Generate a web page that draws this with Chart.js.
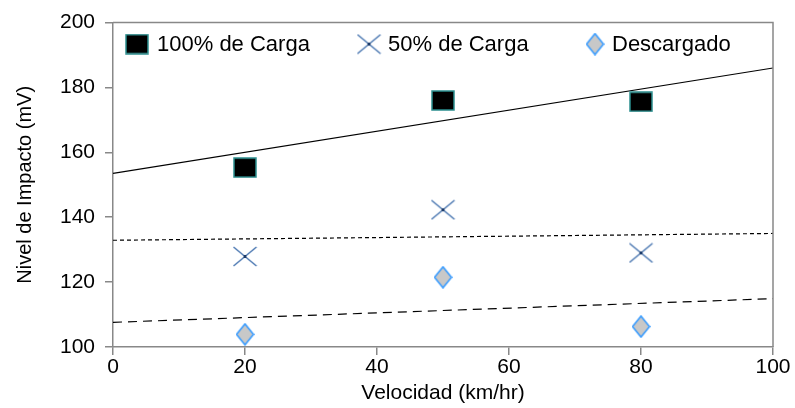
<!DOCTYPE html>
<html><head><meta charset="utf-8">
<script src="https://cdn.jsdelivr.net/npm/chart.js@4/dist/chart.umd.min.js"></script>
<style>html,body{margin:0;padding:0;background:#fff}</style>
</head><body>
<canvas id="c" width="795" height="408" style="display:block;width:795px;height:408px"></canvas>
<script>
// ---- data ----
const speeds = [20, 50, 80];
const carga100 = [155.3, 176.0, 175.6];
const carga50 = [127.9, 142.3, 129.0];
const descargado = [103.9, 121.5, 106.3];
const trendX = [0, 100];
const trend100 = [153.5, 186.0];
const trend50 = [132.9, 135.0];
const trendDesc = [107.6, 114.9];
const seriesLabels = ['100% de Carga', '50% de Carga', 'Descargado'];
const xTicks = [0, 20, 40, 60, 80, 100];
const yTicks = [100, 120, 140, 160, 180, 200];
const xTitle = 'Velocidad (km/hr)';
const yTitle = 'Nivel de Impacto (mV)';

// ---- marker glyphs ----
function mk(w, h, draw) { const c = document.createElement('canvas'); c.width = w; c.height = h; draw(c.getContext('2d'), w, h); return c; }
const sqMarker = mk(24, 21, (g, w, h) => { g.fillStyle = '#000'; g.fillRect(1, 1, w - 2, h - 2); g.strokeStyle = '#2b8f8f'; g.lineWidth = 1.5; g.strokeRect(1, 1, w - 2, h - 2); });
const xMarker = mk(25, 21, (g, w, h) => { g.strokeStyle = '#3567a8'; g.lineWidth = 1.1; g.beginPath(); g.moveTo(1, 1); g.lineTo(w - 1, h - 1); g.moveTo(w - 1, 1); g.lineTo(1, h - 1); g.stroke(); g.fillStyle = '#1a3a6a'; g.fillRect(w / 2 - 1.5, h / 2 - 1.5, 3, 3); });
const dMarker = mk(19, 23, (g, w, h) => { g.beginPath(); g.moveTo(w / 2, 1); g.lineTo(w - 1, h / 2); g.lineTo(w / 2, h - 1); g.lineTo(1, h / 2); g.closePath(); g.fillStyle = '#c8c8c8'; g.fill(); g.strokeStyle = '#3399ff'; g.lineWidth = 1.5; g.stroke(); });
const markers = [sqMarker, xMarker, dMarker];

const pts = (xs, ys) => xs.map((x, i) => ({ x: x, y: ys[i] }));
const FONT = 'Liberation Sans, Arial, sans-serif';
const AXIS = '#888';

const framePlugin = {
  id: 'frame',
  afterDraw(chart) {
    const a = chart.chartArea, g = chart.ctx;
    g.save(); g.strokeStyle = AXIS; g.lineWidth = 1.5;
    g.beginPath(); g.moveTo(a.left, a.top); g.lineTo(a.right, a.top); g.lineTo(a.right, a.bottom); g.stroke();
    g.restore();
  }
};
const legendPlugin = {
  id: 'inlegend',
  afterDraw(chart) {
    const a = chart.chartArea, g = chart.ctx;
    const offs = [[24, 44], [256, 275], [482, 499]];
    g.save(); g.font = '22px ' + FONT; g.fillStyle = '#000'; g.textBaseline = 'middle'; g.textAlign = 'left';
    const cy = a.top + 21.5;
    seriesLabels.forEach((lab, i) => {
      const m = markers[i];
      g.drawImage(m, a.left + offs[i][0] - m.width / 2, cy - m.height / 2);
      g.fillText(lab, a.left + offs[i][1], cy + 1);
    });
    g.restore();
  }
};

new Chart(document.getElementById('c'), {
  type: 'scatter',
  data: {
    datasets: [
      { label: seriesLabels[0], data: pts(speeds, carga100), pointStyle: sqMarker, pointRadius: 12 },
      { label: seriesLabels[1], data: pts(speeds, carga50), pointStyle: xMarker, pointRadius: 12 },
      { label: seriesLabels[2], data: pts(speeds, descargado), pointStyle: dMarker, pointRadius: 12 },
      { label: 't1', data: pts(trendX, trend100), showLine: true, pointRadius: 0, borderColor: '#000', borderWidth: 1.2 },
      { label: 't2', data: pts(trendX, trend50), showLine: true, pointRadius: 0, borderColor: '#000', borderWidth: 1.2, borderDash: [4, 3] },
      { label: 't3', data: pts(trendX, trendDesc), showLine: true, pointRadius: 0, borderColor: '#000', borderWidth: 1.2, borderDash: [9, 6] }
    ]
  },
  options: {
    responsive: false, animation: false, events: [],
    layout: { padding: { left: 9, right: 22, top: 21, bottom: 0 } },
    plugins: { legend: { display: false }, tooltip: { enabled: false } },
    scales: {
      x: {
        type: 'linear', min: 0, max: 100,
        afterBuildTicks: s => { s.ticks = xTicks.map(v => ({ value: v })); },
        afterFit: s => { s.height = 61; },
        grid: { drawOnChartArea: false, drawTicks: true, tickLength: 8, color: AXIS, lineWidth: 1.5 },
        border: { display: true, color: AXIS, width: 1.5 },
        ticks: { color: '#000', font: { family: FONT, size: 21 }, padding: 0, maxRotation: 0 },
        title: { display: true, text: xTitle, color: '#000', font: { family: FONT, size: 21 }, padding: { top: 0, bottom: 2 } }
      },
      y: {
        type: 'linear', min: 100, max: 200,
        afterBuildTicks: s => { s.ticks = yTicks.map(v => ({ value: v })); },
        afterFit: s => { s.width = 104; },
        grid: { drawOnChartArea: false, drawTicks: true, tickLength: 8, color: AXIS, lineWidth: 1.5 },
        border: { display: true, color: AXIS, width: 1.5 },
        ticks: { color: '#000', font: { family: FONT, size: 21 }, padding: 10 },
        title: { display: true, text: yTitle, color: '#000', font: { family: FONT, size: 20 }, padding: { top: 4, bottom: 4 } }
      }
    }
  },
  plugins: [framePlugin, legendPlugin]
});
</script>
</body></html>
